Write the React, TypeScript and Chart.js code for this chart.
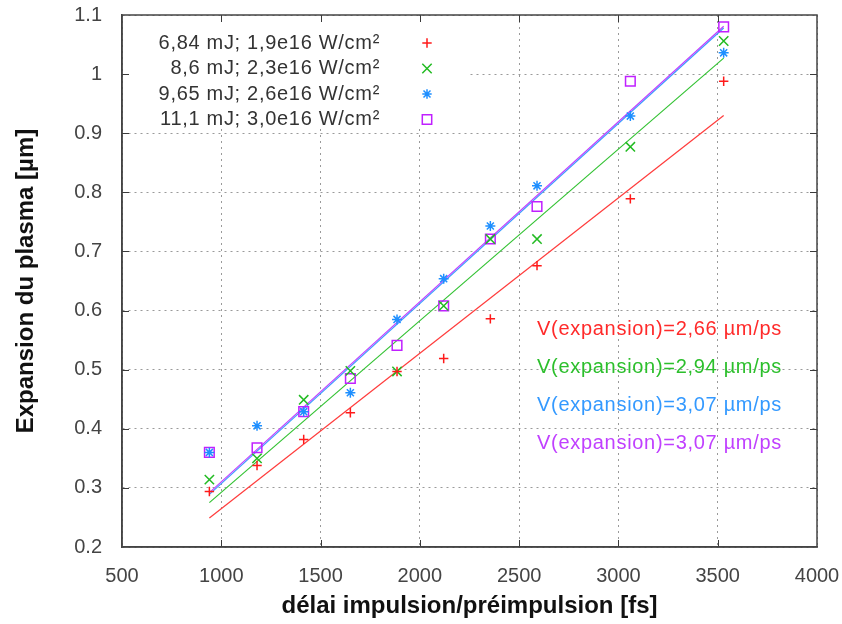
import React, { useEffect, useRef } from "react";
import { Chart, registerables } from "chart.js";

Chart.register(...registerables);

// ---- data ----
const delays = [940, 1180, 1415, 1650, 1885, 2120, 2355, 2590, 3060, 3530];
const exp684 = [0.294, 0.338, 0.382, 0.427, 0.497, 0.519, 0.586, 0.676, 0.789, 0.988];
const exp86 = [0.314, 0.35, 0.449, 0.498, 0.497, 0.608, 0.721, 0.721, 0.877, 1.056];
const exp965 = [0.36, 0.405, 0.429, 0.461, 0.585, 0.654, 0.743, 0.811, 0.929, 1.036];
const exp111 = [0.36, 0.368, 0.429, 0.485, 0.541, 0.608, 0.721, 0.776, 0.988, 1.08];

const fitX = [940, 3530];
const fit684 = [0.249, 0.93];
const fit86 = [0.275, 1.027];
const fit965 = [0.289, 1.078];
const fit111 = [0.292, 1.081];

const seriesLabels = [
  "6,84 mJ; 1,9e16 W/cm²",
  "8,6 mJ; 2,3e16 W/cm²",
  "9,65 mJ; 2,6e16 W/cm²",
  "11,1 mJ; 3,0e16 W/cm²",
];
const velocityLabels = [
  "V(expansion)=2,66 µm/ps",
  "V(expansion)=2,94 µm/ps",
  "V(expansion)=3,07 µm/ps",
  "V(expansion)=3,07 µm/ps",
];
const xTitle = "délai impulsion/préimpulsion [fs]";
const yTitle = "Expansion du plasma [µm]";
const xMin = 500, xMax = 4000, xStep = 500;
const yMin = 0.2, yMax = 1.1, yStep = 0.1;

// ---- styles ----
const pointColors = ["#ff1a1a", "#22bb22", "#1e8fff", "#c020ff"];
const lineColors = ["#ff3b3b", "#33c233", "#3a9cff", "#c040ff"];
const textColors = ["#ff2a2a", "#2cbf2c", "#3399ff", "#c040ff"];
const styles = ["cross", "crossRot", "star", "rect"];
const radii = [4.7, 6.6, 5, 6.8];
const FONT = '"Liberation Sans", Arial, sans-serif';

const toPts = (xs: number[], ys: number[]) => xs.map((x, i) => ({ x, y: ys[i] }));

function drawMarker(ctx: CanvasRenderingContext2D, style: string, x: number, y: number, color: string) {
  ctx.save();
  ctx.strokeStyle = color;
  ctx.lineWidth = 1.5;
  ctx.beginPath();
  const r = 4.7;
  if (style === "cross" || style === "star") {
    ctx.moveTo(x - r, y); ctx.lineTo(x + r, y);
    ctx.moveTo(x, y - r); ctx.lineTo(x, y + r);
  }
  if (style === "crossRot" || style === "star") {
    const d = style === "star" ? 3.5 : 4.7;
    ctx.moveTo(x - d, y - d); ctx.lineTo(x + d, y + d);
    ctx.moveTo(x - d, y + d); ctx.lineTo(x + d, y - d);
  }
  if (style === "rect") {
    ctx.rect(x - 4.7, y - 4.7, 9.4, 9.4);
  }
  ctx.stroke();
  ctx.restore();
}

const overlay = {
  id: "overlay",
  beforeDatasetsDraw(chart: any) {
    const { ctx, chartArea: a } = chart;
    ctx.save();
    ctx.fillStyle = "#ffffff";
    ctx.fillRect(a.left + 1, a.top + 1, 346, 112);
    ctx.restore();
  },
  afterDraw(chart: any) {
    const { ctx, chartArea: a, scales } = chart;
    const xs = scales.x, ys = scales.y;
    ctx.save();
    // inward tick marks on all four sides
    ctx.strokeStyle = "#3a3a3a";
    ctx.lineWidth = 1;
    ctx.beginPath();
    for (let v = xMin + xStep; v < xMax; v += xStep) {
      const px = Math.round(xs.getPixelForValue(v)) + 0.5;
      ctx.moveTo(px, a.bottom); ctx.lineTo(px, a.bottom - 7);
      ctx.moveTo(px, a.top); ctx.lineTo(px, a.top + 7);
    }
    for (let k = 1; k < Math.round((yMax - yMin) / yStep); k++) {
      const v = yMin + k * yStep;
      const py = Math.round(ys.getPixelForValue(v)) + 0.5;
      ctx.moveTo(a.left, py); ctx.lineTo(a.left + 7, py);
      ctx.moveTo(a.right, py); ctx.lineTo(a.right - 7, py);
    }
    ctx.stroke();
    // frame
    ctx.strokeStyle = "#444444";
    ctx.lineWidth = 1.5;
    ctx.strokeRect(a.left, a.top, a.right - a.left, a.bottom - a.top);

    // legend
    (ctx as any).letterSpacing = "0.7px";
    ctx.font = "20px " + FONT;
    ctx.textAlign = "right";
    ctx.textBaseline = "middle";
    seriesLabels.forEach((t, i) => {
      const y = a.top + 28 + i * 25.5;
      ctx.fillStyle = "#333333";
      ctx.fillText(t, a.left + 258, y);
      drawMarker(ctx, styles[i], a.left + 305, y, pointColors[i]);
    });
    // velocity annotations
    velocityLabels.forEach((t, i) => {
      ctx.fillStyle = textColors[i];
      ctx.fillText(t, a.right - 35, a.top + 314 + i * 38);
    });
    (ctx as any).letterSpacing = "0px";
    ctx.restore();
  },
};

export default function App() {
  const ref = useRef<HTMLCanvasElement>(null);
  useEffect(() => {
    if (!ref.current) return;
    const pointSets = [exp684, exp86, exp965, exp111].map((ys, i) => ({
      label: seriesLabels[i],
      data: toPts(delays, ys),
      showLine: false,
      pointStyle: styles[i],
      pointRadius: radii[i],
      pointHoverRadius: radii[i],
      pointBorderColor: pointColors[i],
      pointBackgroundColor: "rgba(0,0,0,0)",
      pointBorderWidth: 1.5,
      borderColor: pointColors[i],
      order: 0,
    }));
    const fitSets = [fit684, fit86, fit965, fit111].map((ys, i) => ({
      label: velocityLabels[i],
      data: toPts(fitX, ys),
      showLine: true,
      pointRadius: 0,
      borderColor: lineColors[i],
      borderWidth: 1.2,
      fill: false,
      order: i === 3 ? 1 : 2,
    }));
    const chart = new Chart(ref.current, {
      type: "scatter",
      data: { datasets: [...pointSets, ...fitSets] as any },
      options: {
        animation: false,
        responsive: false,
        layout: { padding: { top: 15, right: 25, left: 0, bottom: 0 } },
        plugins: { legend: { display: false }, tooltip: { enabled: false } },
        scales: {
          x: {
            type: "linear",
            min: xMin,
            max: xMax,
            afterFit: (s: any) => { s.height = 77; s.paddingLeft = 0; s.paddingRight = 0; },
            ticks: {
              stepSize: xStep,
              autoSkip: false,
              maxRotation: 0,
              padding: 17,
              color: "#444444",
              font: { family: FONT, size: 20 },
              callback: (v: any) => String(Math.round(Number(v))),
            },
            grid: { color: "#9a9a9a", lineWidth: 1, drawTicks: false },
            border: { display: true, color: "#444444", width: 1.5, dash: [2, 4] },
            title: {
              display: true,
              text: xTitle,
              color: "#111111",
              font: { family: FONT, size: 24, weight: "bold" },
              padding: { top: 0, bottom: 3 },
            },
          },
          y: {
            type: "linear",
            min: yMin,
            max: yMax,
            afterFit: (s: any) => { s.width = 122; s.paddingTop = 0; s.paddingBottom = 0; },
            ticks: {
              stepSize: yStep,
              padding: 20,
              color: "#444444",
              font: { family: FONT, size: 20 },
              callback: (v: any) => String(Math.round(Number(v) * 10) / 10),
            },
            grid: { color: "#9a9a9a", lineWidth: 1, drawTicks: false },
            border: { display: true, color: "#444444", width: 1.5, dash: [2, 4] },
            title: {
              display: true,
              text: yTitle,
              color: "#111111",
              font: { family: FONT, size: 24, weight: "bold" },
              padding: { top: 12, bottom: 0 },
            },
          },
        },
      },
      plugins: [overlay as any],
    });
    return () => chart.destroy();
  }, []);
  return (
    <div style={{ position: "fixed", left: 0, top: 0, width: 842, height: 624, background: "#fff" }}>
      <canvas ref={ref} width={842} height={624} style={{ display: "block" }} />
    </div>
  );
}
